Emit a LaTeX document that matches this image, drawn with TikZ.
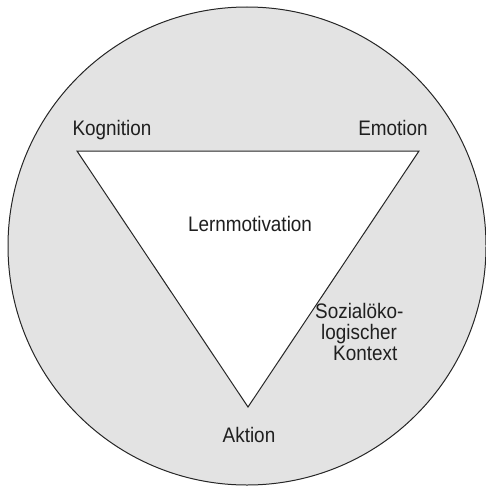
\documentclass[tikz,border=0pt]{standalone}
\usepackage{fontspec}
\setmainfont[FakeStretch=0.9]{Liberation Sans}
\begin{document}
\begin{tikzpicture}[x=1pt,y=-1pt,
  lbl/.style={font=\fontsize{21}{21}\selectfont, text=black!88, inner sep=0pt, anchor=base},
  edge/.style={draw=black!85, line width=1pt}]
\useasboundingbox (0,0) rectangle (486,487);
\fill[black!11] (247,246) circle[radius=239];
\draw[edge] (247,246) circle[radius=239];
\coordinate (K) at (77,151);
\coordinate (E) at (419,151);
\coordinate (A) at (248,407);
\fill[white] (K) -- (E) -- (A) -- cycle;
\draw[edge, line join=miter] (K) -- (E) -- (A) -- cycle;
\node[lbl] (kog) at (112,135) {Kognition};
\node[lbl] (emo) at (393,135) {Emotion};
\node[lbl] (lern) at (250,231.5) {Lernmotivation};
\node[lbl] (akt) at (249,442) {Aktion};
\node[lbl, anchor=base west, align=left] (soz) at (315,360) {Sozialöko-\\\hspace*{6pt}logischer\\\hspace*{18pt}Kontext};
\end{tikzpicture}
\end{document}
